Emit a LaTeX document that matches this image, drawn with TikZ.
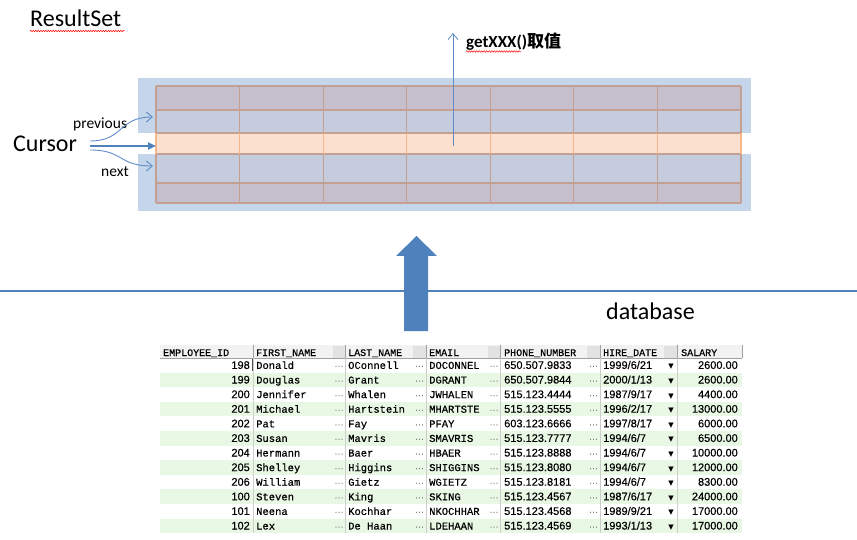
\documentclass[tikz,border=0pt]{standalone}
\usepackage{fontspec}
\setmainfont{Carlito}
\newfontfamily\cjk{Noto Sans CJK SC}
\newfontfamily\monof[FakeBold=0.6]{Liberation Mono}
\newfontfamily\numf[FakeBold=0.3]{Liberation Sans}
\newfontfamily\symf{DejaVu Sans}
\usetikzlibrary{arrows.meta,decorations.pathmorphing}
\definecolor{bgblue}{RGB}{197,214,234}
\definecolor{mauve}{RGB}{198,191,205}
\definecolor{bluegrey}{RGB}{197,204,222}
\definecolor{peach}{RGB}{251,223,207}
\definecolor{gridline}{RGB}{196,160,146}
\definecolor{orangeline}{RGB}{244,184,140}
\definecolor{accent}{RGB}{79,129,189}
\definecolor{thinblue}{RGB}{95,140,198}
\definecolor{rowgreen}{RGB}{232,248,228}
\definecolor{sepgrey}{RGB}{205,205,205}
\definecolor{hdrgrey}{RGB}{242,242,242}
\definecolor{hdrfill}{RGB}{226,226,226}
\definecolor{hdrsep}{RGB}{160,160,160}
\definecolor{dotgrey}{RGB}{120,120,120}
\tikzset{
  lbl/.style={inner sep=0pt, anchor=base west},
  barb/.style={-{Straight Barb[length=6pt,width=10pt]}, line width=0.9pt, thinblue},
  wavy/.style={red, line width=0.5pt, decorate, decoration={snake,amplitude=0.7pt,segment length=2.5pt}},
  txtcell/.style={inner sep=0pt, anchor=base west, font=\monof\fontsize{10.5}{12}\selectfont},
  hdrcell/.style={inner sep=0pt, anchor=base west, font=\monof\fontsize{10}{12}\selectfont},
  numcell/.style={inner sep=0pt, anchor=base west, font=\numf\fontsize{11}{12}\selectfont},
  numright/.style={inner sep=0pt, anchor=base east, font=\numf\fontsize{11}{12}\selectfont},
  dotcell/.style={inner sep=0pt, anchor=base, text=dotgrey, font=\numf\fontsize{9}{10}\selectfont},
  dropcell/.style={inner sep=0pt, anchor=base, font=\symf\fontsize{7}{9}\selectfont},
}
\begin{document}
\begin{tikzpicture}[x=1pt,y=-1pt]
\useasboundingbox (0,0) rectangle (857,540);

% ---------- titles ----------
\node[lbl, font=\fontsize{24}{28}\selectfont] (rs) at (30,27) {ResultSet};
\draw[wavy] (30,31) -- (125,31);

% ---------- result set grid ----------
\fill[bgblue] (138,78) rectangle (751,133);
\fill[bgblue] (138,154) rectangle (751,211);
\foreach \c/\ya/\yb in {mauve/86/110, bluegrey/110/133, peach/133/154, bluegrey/154/183, mauve/183/203}
  \fill[\c] (156,\ya) rectangle (741,\yb);
\foreach \y in {86,110,133,154,183,203}
  \draw[gridline, line width=1.1pt] (156,\y) -- (741,\y);
\foreach \k in {0,...,7}{
  \pgfmathsetmacro\xx{156+\k*83.571}
  \draw[gridline, line width=1.1pt] (\xx,86) -- (\xx,133);
  \draw[orangeline, line width=1.1pt] (\xx,133) -- (\xx,154);
  \draw[gridline, line width=1.1pt] (\xx,154) -- (\xx,203);
}

% ---------- cursor ----------
\node[lbl, font=\fontsize{24}{28}\selectfont] (cursor) at (13,152) {Cursor};
\node[lbl, font=\fontsize{15.5}{18}\selectfont] (prev) at (73,129) {previous};
\node[lbl, font=\fontsize{15.5}{18}\selectfont] (next) at (101,177) {next};
\coordinate (cs0) at (90,141);
\coordinate (cs1) at (90,146);
\coordinate (cs2) at (90,150);
\coordinate (tPrev) at (153,117);
\coordinate (tCur) at (156,146);
\coordinate (tNext) at (153,166);
\draw[barb] (cs0) .. controls (124,141) and (118,117) .. (tPrev);
\draw[barb] (cs2) .. controls (124,150) and (118,166) .. (tNext);
\draw[accent, line width=2pt, -{Triangle[length=8pt,width=7pt]}] (cs1) -- (tCur);

% ---------- getXXX ----------
\coordinate (gs) at (453,146);
\coordinate (ge) at (453,33);
\draw[barb, line width=0.8pt] (gs) -- (ge);
\node[lbl, font=\fontsize{17}{20}\selectfont] (get) at (466,48) {\bfseries getXXX()\cjk\bfseries 取值};
\draw[wavy] (466,51.5) -- (521,51.5);

% ---------- divider and big arrow ----------
\coordinate (dl) at (0,291);
\coordinate (dr) at (857,291);
\draw[accent, line width=1.1pt] (dl) -- (dr);
\fill[accent] (404,331) -- (404,256) -- (396,256) -- (416.5,236) -- (437,256) -- (428,256) -- (428,331) -- cycle;
\node[lbl, font=\fontsize{24}{28}\selectfont] (db) at (606,319) {database};

% ---------- database table ----------
% header
\fill[hdrgrey] (160,345) rectangle (742,358);
\foreach \a/\b in {333/345, 413/426, 488/500, 587/600, 664/677}
  \fill[hdrfill] (\a,345.5) rectangle (\b,357.5);
\foreach \x in {253,345,426,500,600,677,742}
  \draw[hdrsep, line width=0.7pt] (\x,345) -- (\x,358);
\draw[hdrsep, line width=0.6pt] (160,358) -- (742,358);
\node[hdrcell] (h1) at (163,356) {EMPLOYEE\_ID};
\node[hdrcell] (h2) at (256,356) {FIRST\_NAME};
\node[hdrcell] (h3) at (348,356) {LAST\_NAME};
\node[hdrcell] (h4) at (429,356) {EMAIL};
\node[hdrcell] (h5) at (504,356) {PHONE\_NUMBER};
\node[hdrcell] (h6) at (603,356) {HIRE\_DATE};
\node[hdrcell] (h7) at (681,356) {SALARY};

% rows
\foreach \id/\fn/\ln/\em/\ph/\hd/\sal [count=\i from 0] in {
  198/Donald/OConnell/DOCONNEL/650.507.9833/{1999/6/21}/2600.00,
  199/Douglas/Grant/DGRANT/650.507.9844/{2000/1/13}/2600.00,
  200/Jennifer/Whalen/JWHALEN/515.123.4444/{1987/9/17}/4400.00,
  201/Michael/Hartstein/MHARTSTE/515.123.5555/{1996/2/17}/13000.00,
  202/Pat/Fay/PFAY/603.123.6666/{1997/8/17}/6000.00,
  203/Susan/Mavris/SMAVRIS/515.123.7777/{1994/6/7}/6500.00,
  204/Hermann/Baer/HBAER/515.123.8888/{1994/6/7}/10000.00,
  205/Shelley/Higgins/SHIGGINS/515.123.8080/{1994/6/7}/12000.00,
  206/William/Gietz/WGIETZ/515.123.8181/{1994/6/7}/8300.00,
  100/Steven/King/SKING/515.123.4567/{1987/6/17}/24000.00,
  101/Neena/Kochhar/NKOCHHAR/515.123.4568/{1989/9/21}/17000.00,
  102/Lex/De Haan/LDEHAAN/515.123.4569/{1993/1/13}/17000.00}{
  \pgfmathsetmacro\yt{358+14.6*\i}
  \pgfmathsetmacro\yb{\yt+14.6}
  \pgfmathsetmacro\yl{\yt+10.9}
  \ifodd\i \fill[rowgreen] (160,\yt) rectangle (742,\yb); \fi
  \foreach \x in {253,345,426,500,600,677}
    \draw[sepgrey, line width=0.8pt] (\x,\yt) -- (\x,\yb);
  \node[numright] (id\i) at (250,\yl) {\id};
  \node[txtcell] (fn\i) at (256,\yl) {\fn};
  \node[dotcell] (d1\i) at (339,\yl) {···};
  \node[txtcell] (ln\i) at (348,\yl) {\ln};
  \node[dotcell] (d2\i) at (419.5,\yl) {···};
  \node[txtcell] (em\i) at (429,\yl) {\em};
  \node[dotcell] (d3\i) at (494,\yl) {···};
  \node[numcell] (ph\i) at (504,\yl) {\ph};
  \node[dotcell] (d4\i) at (593.5,\yl) {···};
  \node[numcell] (hd\i) at (603,\yl) {\hd};
  \node[dropcell] (dd\i) at (671,\yl) {▼};
  \node[numright] (sa\i) at (738,\yl) {\sal};
}
\draw[black!70, line width=0.8pt] (252.5,359) -- (252.5,371);
\end{tikzpicture}
\end{document}
